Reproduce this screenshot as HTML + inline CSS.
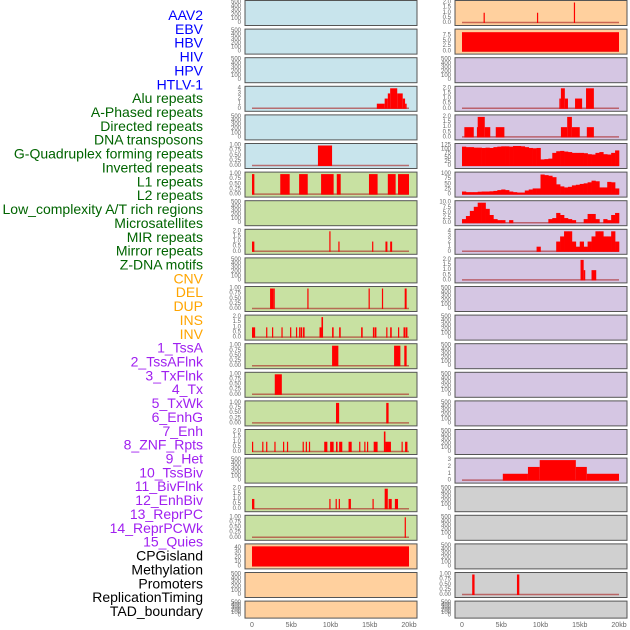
<!DOCTYPE html>
<html><head><meta charset="utf-8"><style>
html,body{margin:0;padding:0;background:#fff;}
svg{display:block;font-family:"Liberation Sans",sans-serif;}
</style></head><body>
<svg id="c" width="630" height="630" viewBox="0 0 630 630"></svg>
<script>
const trackLabels=["AAV2","EBV","HBV","HIV","HPV","HTLV-1","Alu repeats","A-Phased repeats","Directed repeats","DNA transposons","G-Quadruplex forming repeats","Inverted repeats","L1 repeats","L2 repeats","Low_complexity A/T rich regions","Microsatellites","MIR repeats","Mirror repeats","Z-DNA motifs","CNV","DEL","DUP","INS","INV","1_TssA","2_TssAFlnk","3_TxFlnk","4_Tx","5_TxWk","6_EnhG","7_Enh","8_ZNF_Rpts","9_Het","10_TssBiv","11_BivFlnk","12_EnhBiv","13_ReprPC","14_ReprPCWk","15_Quies","CPGisland","Methylation","Promoters","ReplicationTiming","TAD_boundary"];
const labelColors=["#0000ff","#0000ff","#0000ff","#0000ff","#0000ff","#0000ff","#006400","#006400","#006400","#006400","#006400","#006400","#006400","#006400","#006400","#006400","#006400","#006400","#006400","#ffa500","#ffa500","#ffa500","#ffa500","#ffa500","#a020f0","#a020f0","#a020f0","#a020f0","#a020f0","#a020f0","#a020f0","#a020f0","#a020f0","#a020f0","#a020f0","#a020f0","#a020f0","#a020f0","#a020f0","#000","#000","#000","#000","#000"];
const leftBg=["b","b","b","b","b","b","g","g","g","g","g","g","g","g","g","g","g","g","g","p","p","p"];
const rightBg=["p","p","l","l","l","l","l","l","l","l","l","l","l","l","l","l","l","y","y","y","y","y"];
const xTicksKb=[0,5,10,15,20];
const xTickLabels=["0","5kb","10kb","15kb","20kb"];
const emptyTicks=[0,100,200,300,400,500];
const ticks1=[0,0.25,0.5,0.75,1];
const ticks2=[0,0.5,1,1.5,2];
// bars: [startKb,endKb,value]
const aluLeft=[[15.9,16.9,1],[16.9,17.3,2],[17.3,17.6,3],[17.6,18.5,4],[18.5,19.2,3],[19.2,19.5,2],[19.5,19.7,1]];
const gquadLeft=[[8.4,10.2,1]];
const l1Left=[[0,0.3,1],[3.6,4.8,1],[6.0,7.1,1],[8.8,10.4,1],[10.8,11.3,1],[14.9,16.0,1],[17.3,18.3,1],[18.6,20,1]];
const mirLeft=[[0,0.3,1],[9.85,10.0,2],[11.0,11.15,1],[15.3,15.45,1],[17.0,17.25,1],[17.6,17.85,1]];
const delLeft=[[2.3,2.7,1],[2.7,2.9,1],[7.05,7.2,1],[14.85,15.0,1],[16.55,16.7,1],[19.45,19.7,1]];
const insLeft=[[0,0.4,1],[1.8,1.95,1],[2.55,2.7,1],[3.75,3.9,1],[4.85,5.0,1],[5.6,5.75,1],[6.0,6.15,1],[6.2,6.4,1],[6.5,6.7,1],[8.6,8.85,1],[8.85,9.05,2],[10.2,10.4,1],[11.1,11.3,1],[13.9,14.1,1],[15.4,15.6,1],[15.65,15.85,1],[17.1,17.25,1],[17.6,17.8,1],[18.6,18.75,1],[19.3,19.5,1],[19.55,19.8,1]];
const tssaLeft=[[10.2,11.0,1],[18.1,18.9,1],[19.4,19.7,1]];
const txflnkLeft=[[2.9,3.8,1]];
const txwkLeft=[[10.7,11.1,1],[17.1,17.4,1]];
const enhLeft=[[0,0.12,1],[1.3,1.42,1],[1.8,1.92,1],[2.85,2.97,1],[3.95,4.07,1],[4.45,4.57,1],[6.45,6.57,1],[6.85,6.97,1],[7.25,7.4,1],[9.2,9.6,1],[9.95,10.4,1],[10.7,10.9,1],[11.1,11.5,1],[12.3,12.7,1],[13.65,13.8,1],[14.3,14.45,1],[14.65,14.8,1],[15.5,16.0,1],[16.8,17.0,2],[17.0,17.7,1],[19.05,19.2,1],[19.5,19.8,1]];
const bivflnkLeft=[[0,0.3,1],[9.85,10.0,1],[10.65,10.8,1],[11.05,11.2,1],[12.3,12.6,1],[15.35,15.5,1],[16.9,17.3,2],[17.4,17.8,1],[18.2,18.6,1]];
const reprpcLeft=[[19.45,19.6,1]];
const cpgLeft=[[0,20,44]];
const row0Right=[[2.75,2.9,1],[9.55,9.7,1],[14.25,14.4,2]];
const row1Right=[[0,20,9]];
const row3Right=[[12.4,12.6,1],[12.6,13.1,2],[13.1,13.5,1],[14.4,15.3,1],[15.8,16.8,2]];
const row4Right=[[0.3,1.5,1],[1.9,2.0,1],[2.0,2.9,2],[2.9,3.6,1],[4.3,5.4,1],[12.6,13.4,1],[13.4,14.0,2],[14.0,15.0,1],[15.9,16.8,1]];
const zdnaRight=[[15.1,15.5,2],[15.5,15.7,1],[16.5,17.1,1]];
const hetRight=[[5.2,8.4,1],[8.4,9.9,2],[9.9,14.5,3],[14.5,15.9,2],[15.9,20,1]];
const promRight=[[1.3,1.6,1],[7.0,7.3,1]];
// binned profiles, 0.5kb bins
const gquadRight=[118,115,115,112,112,110,112,110,115,118,120,120,118,122,122,120,115,110,108,110,40,42,45,80,90,92,88,85,80,80,80,78,72,70,80,85,72,70,80,95];
const l1Right=[15,12,12,12,14,15,15,16,18,22,25,22,15,12,10,10,20,25,30,30,98,95,92,85,50,40,35,38,45,48,52,55,60,68,65,35,35,62,60,30];
const lowcRight=[2,3.5,6,8,10,10,7,4,2,1.5,1.5,0,1.5,0,0,0,0,0,0,0,0,0,2,2.5,5,4,2.5,2,1.5,0,0,2,4.5,4.5,2,0,2,1.5,4,5];
const mirRight=[0,0,0,0,0,0,0,0,0,0,0,0,0,0,0,0,0,0,0,1,0,0,0,0,2,3,4,4,2,1,2,1,2,3,4,4,3,3,4,2];

const E={max:500,ticks:emptyTicks};
const leftPanels=[E,E,E,{max:4,ticks:[0,1,2,3,4],bars:aluLeft},E,{max:1,ticks:ticks1,bars:gquadLeft},{max:1,ticks:ticks1,bars:l1Left},E,{max:2,ticks:ticks2,bars:mirLeft},E,{max:1,ticks:ticks1,bars:delLeft},{max:2,ticks:ticks2,bars:insLeft},{max:1,ticks:ticks1,bars:tssaLeft},{max:1,ticks:ticks1,bars:txflnkLeft},{max:1,ticks:ticks1,bars:txwkLeft},{max:2,ticks:ticks2,bars:enhLeft},E,{max:2,ticks:ticks2,bars:bivflnkLeft},{max:1,ticks:ticks1,bars:reprpcLeft},{max:45,ticks:[0,10,20,30,40],bars:cpgLeft},E,E];
const rightPanels=[{max:2,ticks:ticks2,bars:row0Right},{max:9.5,ticks:[0,2.5,5,7.5],bars:row1Right},E,{max:2,ticks:ticks2,bars:row3Right},{max:2,ticks:ticks2,bars:row4Right},{max:125,ticks:[0,25,50,75,100,125],bins:gquadRight},{max:100,ticks:[0,25,50,75,100],bins:l1Right},{max:10,ticks:[0,2.5,5,7.5,10],bins:lowcRight},{max:4,ticks:[0,1,2,3,4],bins:mirRight},{max:2,ticks:ticks2,bars:zdnaRight},E,E,E,E,E,E,{max:3,ticks:[0,1,2,3],bars:hetRight},E,E,E,{max:1,ticks:ticks1,bars:promRight},E];

const NS="http://www.w3.org/2000/svg";
const svg=document.getElementById('c');
const bgCol={b:"#c8e4ec",g:"#c8e1a2",p:"#ffd09e",l:"#d5c6e3",y:"#d0d0d0"};
function mk(t,a){const e=document.createElementNS(NS,t);for(const k in a)e.setAttribute(k,a[k]);svg.appendChild(e);return e;}
function fmt(v,t){const step=t.length>1?t[1]-t[0]:1;if(step===0.25)return v.toFixed(2);if(step%1!==0)return v.toFixed(1);return String(v);}
// labels
trackLabels.forEach((s,k)=>{const t=mk('text',{x:203,y:15+k*13.86,'text-anchor':'end','dominant-baseline':'central','font-size':14,fill:labelColors[k]});


t.textContent=s;});
function rowTop(i){return 0.5+28.6*i;}
function rowH(i){return i===21?17:25;}
function drawPanel(p,i,x0,bg,side){
  const top=rowTop(i),h=rowH(i),w=172;
  const r=mk('rect',{x:x0,y:top,width:w,height:h,fill:bgCol[bg],stroke:"#555","stroke-width":1});
  
  
  const yT=top+2,yB=top+h-2.5;
  const ys=v=>yB-(v/p.max)*(yB-yT);
  const xs=kb=>x0+7+kb*7.85;
  p.ticks.forEach(v=>{const t=mk('text',{x:x0-4,y:ys(v),'text-anchor':'end','dominant-baseline':'central','font-size':6,fill:"#666"});
    
    
    t.textContent=fmt(v,p.ticks);});
  if(p.bars||p.bins){
    const bl=mk('line',{x1:xs(0),x2:xs(20),y1:yB-0.5,y2:yB-0.5,stroke:"rgba(170,30,30,0.6)","stroke-width":1.5});
    
    
  }
  (p.bars||[]).forEach(b=>{const y=ys(b[2]);const e=mk('rect',{x:xs(b[0]),y:y,width:Math.max(1.2,xs(b[1])-xs(b[0])),height:yB-y,fill:"#ff0000"});
    
    });
  (p.bins||[]).forEach((v,j)=>{if(v<=0)return;const y=ys(v);const e=mk('rect',{x:xs(j*0.5),y:y,width:xs(0.5)-xs(0)+0.3,height:yB-y,fill:"#ff0000"});
    
    });
  if(i===21){xTicksKb.forEach((kb,j)=>{const t=mk('text',{x:xs(kb),y:627,'text-anchor':'middle','font-size':7,fill:"#666"});
    
    
    t.textContent=xTickLabels[j];});}
}
leftPanels.forEach((p,i)=>drawPanel(p,i,245,leftBg[i],'left'));
rightPanels.forEach((p,i)=>drawPanel(p,i,455,rightBg[i],'right'));
</script>
</body></html>
